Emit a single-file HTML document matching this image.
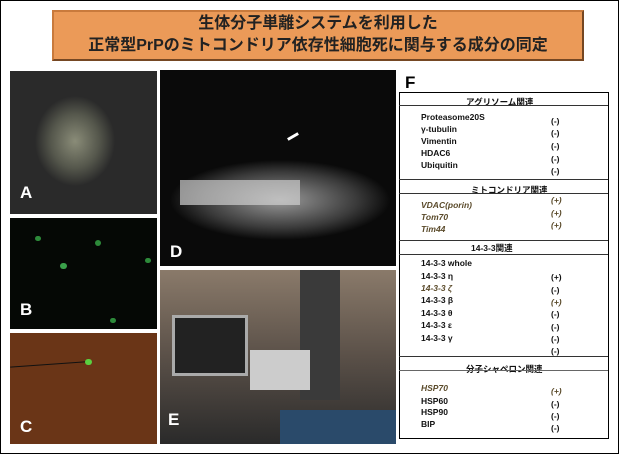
<!DOCTYPE html>
<html><head><meta charset="utf-8"><style>
body{margin:0;width:619px;height:454px;background:#fff;position:relative;overflow:hidden;font-family:"Liberation Sans","Noto Sans CJK JP",sans-serif}
.frame{position:absolute;left:0;top:0;width:617px;height:452px;border:1px solid #000}
.title{position:absolute;left:52px;top:10px;width:528px;height:46px;background:#eb9a58;border:2px outset #c97a3c;text-align:center;font-weight:bold;font-size:16px;line-height:22px;color:#222;padding-top:1px}
.ph{position:absolute;overflow:hidden}
.lab{position:absolute;color:#fff;font-weight:bold;font-size:17px}
.t{position:absolute;font-size:8.5px;font-weight:bold;color:#111;white-space:nowrap}
.i{color:#5a4a2a;font-style:italic}
.hl{position:absolute;left:399px;width:209px;height:1px;background:#333}
</style></head><body>
<div class="frame"></div>
<div class="title">生体分子単離システムを利用した<br>正常型PrPのミトコンドリア依存性細胞死に関与する成分の同定</div>

<div class="ph" style="left:10px;top:71px;width:147px;height:143px;background:radial-gradient(ellipse 40px 45px at 65px 70px,#8a8c78,#55574c 60%,#2a2a2a 100%)"><span class="lab" style="left:10px;top:112px">A</span></div>
<div class="ph" style="left:10px;top:218px;width:147px;height:111px;background:#050805">
<div style="position:absolute;left:25px;top:18px;width:6px;height:5px;background:#2d8a3a;border-radius:3px"></div>
<div style="position:absolute;left:50px;top:45px;width:7px;height:6px;background:#3aa04a;border-radius:3px"></div>
<div style="position:absolute;left:85px;top:22px;width:6px;height:6px;background:#2d8a3a;border-radius:3px"></div>
<div style="position:absolute;left:100px;top:100px;width:6px;height:5px;background:#2d8a3a;border-radius:3px"></div>
<div style="position:absolute;left:135px;top:40px;width:6px;height:5px;background:#2d8a3a;border-radius:3px"></div>
<span class="lab" style="left:10px;top:82px">B</span></div>
<div class="ph" style="left:10px;top:333px;width:147px;height:111px;background:#6a3517">
<div style="position:absolute;left:0;top:0;width:80px;height:1px;background:#111;transform:rotate(-4deg);transform-origin:right;top:28px"></div>
<div style="position:absolute;left:75px;top:26px;width:7px;height:6px;background:#5ad040;border-radius:3px"></div>
<span class="lab" style="left:10px;top:84px">C</span></div>
<div class="ph" style="left:160px;top:70px;width:236px;height:196px;background:radial-gradient(ellipse 110px 40px at 120px 130px,#9a9a9a,#3a3a3a 70%,#0a0a0a 100%)">
<div style="position:absolute;left:20px;top:110px;width:120px;height:25px;background:#cfcfcf;opacity:.7"></div>
<div style="position:absolute;left:127px;top:65px;width:12px;height:3px;background:#fff;transform:rotate(-30deg)"></div>
<span class="lab" style="left:10px;top:172px">D</span></div>
<div class="ph" style="left:160px;top:270px;width:236px;height:174px;background:linear-gradient(#8a7a6a,#5a5048 50%,#2a2a2a)">
<div style="position:absolute;left:12px;top:45px;width:70px;height:55px;background:#222;border:3px solid #aaa"></div>
<div style="position:absolute;left:140px;top:0;width:40px;height:130px;background:#3a3a3a"></div>
<div style="position:absolute;left:90px;top:80px;width:60px;height:40px;background:#ccc"></div>
<div style="position:absolute;left:120px;top:140px;width:116px;height:34px;background:#2a4a6a"></div>
<span class="lab" style="left:8px;top:140px">E</span></div>

<div style="position:absolute;left:405px;top:73px;font-size:17px;font-weight:bold">F</div>
<div style="position:absolute;left:399px;top:92px;width:208px;height:345px;border:1px solid #000"></div>
<div class="t" style="left:466px;top:96px">アグリソーム関連</div>
<div class="hl" style="top:105px"></div>
<div class="t" style="left:421px;top:112px">Proteasome20S</div>
<div class="t" style="left:421px;top:124px">γ-tubulin</div>
<div class="t" style="left:421px;top:136px">Vimentin</div>
<div class="t" style="left:421px;top:148px">HDAC6</div>
<div class="t" style="left:421px;top:160px">Ubiquitin</div>
<div class="t" style="left:551px;top:116px">(-)</div>
<div class="t" style="left:551px;top:128px">(-)</div>
<div class="t" style="left:551px;top:141px">(-)</div>
<div class="t" style="left:551px;top:154px">(-)</div>
<div class="t" style="left:551px;top:166px">(-)</div>
<div class="hl" style="top:179px"></div>
<div class="t" style="left:471px;top:184px">ミトコンドリア関連</div>
<div class="hl" style="top:193px"></div>
<div class="t i" style="left:421px;top:200px">VDAC(porin)</div>
<div class="t i" style="left:421px;top:212px">Tom70</div>
<div class="t i" style="left:421px;top:224px">Tim44</div>
<div class="t i" style="left:551px;top:195px">(+)</div>
<div class="t i" style="left:551px;top:208px">(+)</div>
<div class="t i" style="left:551px;top:220px">(+)</div>
<div class="hl" style="top:240px"></div>
<div class="t" style="left:471px;top:242px">14-3-3関連</div>
<div class="hl" style="top:254px"></div>
<div class="t" style="left:421px;top:258px">14-3-3 whole</div>
<div class="t" style="left:421px;top:271px">14-3-3 η</div>
<div class="t i" style="left:421px;top:283px">14-3-3 ζ</div>
<div class="t" style="left:421px;top:295px">14-3-3 β</div>
<div class="t" style="left:421px;top:308px">14-3-3 θ</div>
<div class="t" style="left:421px;top:320px">14-3-3 ε</div>
<div class="t" style="left:421px;top:333px">14-3-3 γ</div>
<div class="t" style="left:551px;top:272px">(+)</div>
<div class="t" style="left:551px;top:285px">(-)</div>
<div class="t i" style="left:551px;top:297px">(+)</div>
<div class="t" style="left:551px;top:309px">(-)</div>
<div class="t" style="left:551px;top:322px">(-)</div>
<div class="t" style="left:551px;top:334px">(-)</div>
<div class="t" style="left:551px;top:346px">(-)</div>
<div class="hl" style="top:356px"></div>
<div class="t" style="left:466px;top:363px">分子シャペロン関連</div>
<div class="hl" style="top:370px;background:#666"></div>
<div class="t i" style="left:421px;top:383px">HSP70</div>
<div class="t" style="left:421px;top:396px">HSP60</div>
<div class="t" style="left:421px;top:407px">HSP90</div>
<div class="t" style="left:421px;top:419px">BIP</div>
<div class="t i" style="left:551px;top:386px">(+)</div>
<div class="t" style="left:551px;top:399px">(-)</div>
<div class="t" style="left:551px;top:411px">(-)</div>
<div class="t" style="left:551px;top:423px">(-)</div>
</body></html>
